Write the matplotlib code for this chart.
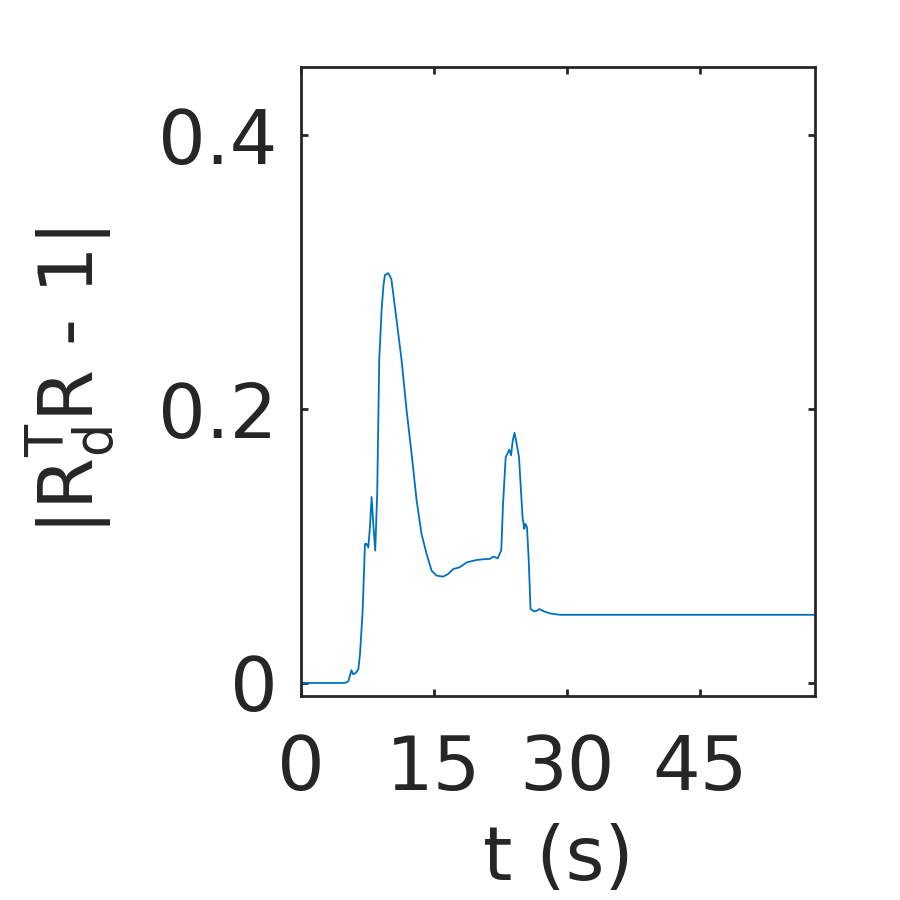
import matplotlib
matplotlib.use("Agg")
import matplotlib.pyplot as plt

# values
t = [0, 2.0, 4.96, 5.34, 5.7, 5.9, 6.2, 6.47, 6.66, 6.96, 7.22, 7.4, 7.6,
     7.78, 7.97, 8.16, 8.38, 8.6, 8.83, 9.1, 9.3, 9.47, 9.85, 10.2, 10.79, 11.35,
     11.92, 12.48, 13.05, 13.6, 14.17, 14.74, 15.3, 16.05, 16.6, 17.2, 17.9,
     18.7, 19.8, 20.9, 21.3, 21.7, 22.2, 22.6, 22.8, 23.1, 23.3, 23.5, 23.7,
     23.9, 24.1, 24.4, 24.6, 24.8, 25.0, 25.2, 25.3, 25.5, 25.7, 25.9, 26.3,
     26.6, 26.9, 27.4, 28.1, 29.2, 40.0, 58.0]
err = [0.0, 0.0, 0.0, 0.0012, 0.0093, 0.0063, 0.0075, 0.0100, 0.021, 0.0527,
       0.1016, 0.1016, 0.099, 0.1138, 0.1358, 0.116, 0.0967, 0.138, 0.236,
       0.2725, 0.290, 0.298, 0.2994, 0.295, 0.265, 0.236, 0.199, 0.1675, 0.1333,
       0.109, 0.0943, 0.082, 0.0784, 0.0777, 0.0796, 0.0833, 0.0845, 0.0881,
       0.0898, 0.0906, 0.0906, 0.0923, 0.0911, 0.097, 0.131, 0.165, 0.1675,
       0.1705, 0.1663, 0.1773, 0.1827, 0.1724, 0.165, 0.143, 0.121, 0.1126,
       0.1163, 0.1138, 0.0894, 0.0540, 0.0523, 0.0527, 0.054, 0.0523, 0.0508,
       0.0498, 0.0498, 0.0498]

xticks = [0, 15, 30, 45]
yticks = [0, 0.2, 0.4]

dark = "#262626"
plt.rcParams["font.family"] = "DejaVu Sans"

fig = plt.figure(figsize=(9, 9), dpi=100)
ax = fig.add_axes([0.3344, 0.2267, 0.5712, 0.6989])

ax.plot(t, err, color="#0072BD", linewidth=1.3)

ax.set_xlim(0, 58)
ax.set_ylim(-0.0095, 0.45)
ax.set_xticks(xticks)
ax.set_xticklabels([str(v) for v in xticks])
ax.set_yticks(yticks)
ax.set_yticklabels(["0", "0.2", "0.4"])

for s in ax.spines.values():
    s.set_color(dark)
    s.set_linewidth(2.0)
ax.tick_params(axis="both", direction="in", length=5, width=2.0,
               color=dark, labelcolor=dark, labelsize=54,
               top=True, right=True)
ax.tick_params(axis="x", pad=27)
ax.tick_params(axis="y", pad=17)

ax.set_xlabel("t (s)", fontsize=54, color=dark, labelpad=12)
ax.set_ylabel(r"$\mathregular{|R_d^TR\ \text{-}\ 1|}$", fontsize=54,
              color=dark, labelpad=28)

fig.savefig("out.png", dpi=100, facecolor="white")
